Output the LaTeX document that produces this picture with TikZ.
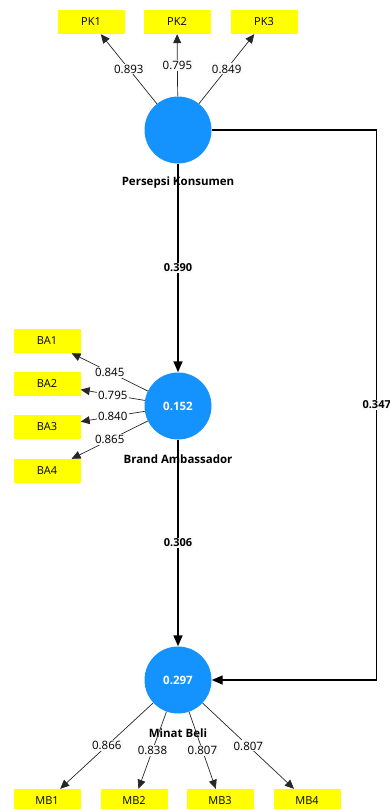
\documentclass[tikz,border=0pt]{standalone}
\usepackage{fontspec}
\setmainfont{Open Sans}
\usetikzlibrary{arrows.meta}
\definecolor{lvblue}{RGB}{20,147,255}
\definecolor{indyellow}{RGB}{255,255,0}

\begin{document}
\begin{tikzpicture}[x=1pt,y=-1pt,
  latent/.style={circle,fill=lvblue,minimum size=67pt,inner sep=0pt,
    text=white,font=\bfseries\fontsize{11.5}{13}\selectfont},
  indicator/.style={rectangle,fill=indyellow,minimum width=67pt,minimum height=24pt,
    inner sep=0pt,font=\fontsize{11}{13}\selectfont},
  lvname/.style={font=\bfseries\fontsize{11.5}{13}\selectfont,inner sep=1pt},
  loading/.style={-{Triangle[length=9pt,width=8pt]},draw=black!85,line width=.7pt},
  path/.style={-{Triangle[length=11pt,width=9pt]},draw=black,line width=1.4pt},
  loadlabel/.style={fill=black!2,inner sep=1.2pt,font=\fontsize{11.5}{13}\selectfont},
  pathlabel/.style={fill=black!2,inner sep=1.2pt,font=\bfseries\fontsize{11}{13}\selectfont}
]
\useasboundingbox (0,0) rectangle (390,809);
% latent variables
\node[latent] (pk) at (178,130) {};
\node[lvname] (pkname) at (178,183) {Persepsi Konsumen};
\node[latent] (ba) at (178,406) {0.152};
\node[lvname] (baname) at (178,459) {Brand Ambassador};
\node[latent] (mb) at (178,680) {0.297};
\node[lvname] (mbname) at (178,733) {Minat Beli};
% indicators
\node[indicator] (pk1) at (91,22) {PK1};
\node[indicator] (pk2) at (177,22) {PK2};
\node[indicator] (pk3) at (264,22) {PK3};
\node[indicator] (ba1) at (47,341) {BA1};
\node[indicator] (ba2) at (47,384) {BA2};
\node[indicator] (ba3) at (47,427) {BA3};
\node[indicator] (ba4) at (47,471) {BA4};
\node[indicator] (mb1) at (47,801) {MB1};
\node[indicator] (mb2) at (134,801) {MB2};
\node[indicator] (mb3) at (220,801) {MB3};
\node[indicator] (mb4) at (307,801) {MB4};
% outer loadings
\draw[loading] (pk) -- node[loadlabel] {0.893} (pk1);
\draw[loading] (pk) -- node[loadlabel] {0.795} (pk2);
\draw[loading] (pk) -- node[loadlabel] {0.849} (pk3);
\draw[loading] (ba) -- node[loadlabel] {0.845} (ba1);
\draw[loading] (ba) -- node[loadlabel] {0.795} (ba2);
\draw[loading] (ba) -- node[loadlabel] {0.840} (ba3);
\draw[loading] (ba) -- node[loadlabel] {0.865} (ba4);
\draw[loading] (mb) -- node[loadlabel] {0.866} (mb1);
\draw[loading] (mb) -- node[loadlabel] {0.838} (mb2);
\draw[loading] (mb) -- node[loadlabel] {0.807} (mb3);
\draw[loading] (mb) -- node[loadlabel] {0.807} (mb4);
% path coefficients
\draw[path] (pk) -- node[pathlabel] {0.390} (ba);
\draw[path] (ba) -- node[pathlabel] {0.306} (mb);
\draw[path] (pk.east) -- ++(165,0) |- node[pathlabel,pos=.25] {0.347} (mb.east);
\end{tikzpicture}
\end{document}
